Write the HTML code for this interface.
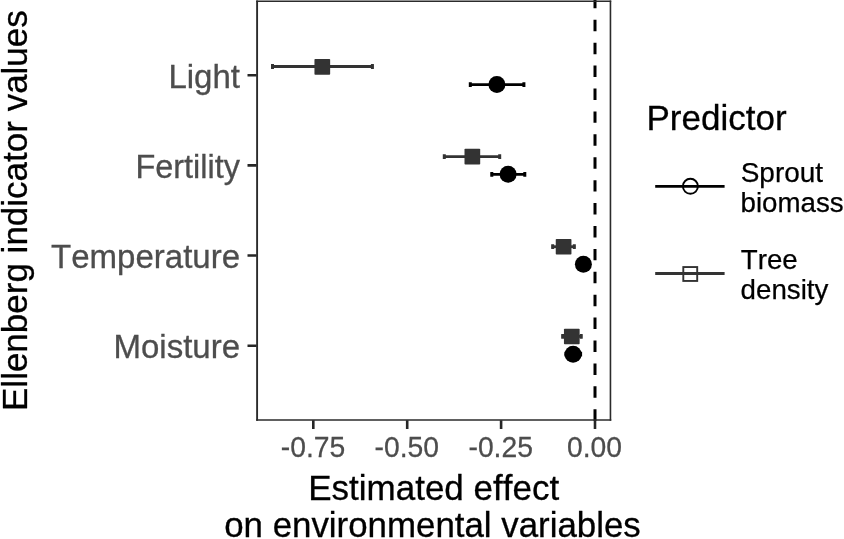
<!DOCTYPE html>
<html>
<head>
<meta charset="utf-8">
<title>Ellenberg indicator values</title>
<style>
html,body{margin:0;padding:0;background:#fff;}
body{width:844px;height:539px;overflow:hidden;}
svg{display:block;will-change:transform;}
text{font-family:"Liberation Sans",sans-serif;font-kerning:none;font-variant-ligatures:none;font-feature-settings:"kern" 0,"liga" 0;}
.ylab{font-size:33px;fill:#4d4d4d;text-anchor:end;stroke:#4d4d4d;stroke-width:0.3px;}
.xlab{font-size:28.3px;fill:#4d4d4d;text-anchor:middle;stroke:#4d4d4d;stroke-width:0.25px;}
.ttl{font-size:35px;fill:#000;text-anchor:middle;stroke:#000;stroke-width:0.3px;}
.lt{font-size:35px;fill:#000;stroke:#000;stroke-width:0.3px;}
.ll{font-size:27.7px;fill:#000;stroke:#000;stroke-width:0.25px;}
</style>
</head>
<body>
<svg width="844" height="539" viewBox="0 0 844 539">
<rect x="0" y="0" width="844" height="539" fill="#ffffff"/>

<!-- dashed zero line -->
<line x1="595" y1="420.7" x2="595" y2="0" stroke="#000" stroke-width="3" stroke-dasharray="11.45 11.46"/>

<!-- error bars : tree density (grey20) -->
<g stroke="#333333" fill="none">
  <path stroke-width="2.8" d="M271.50 66.50H373.40"/>
  <path stroke-width="3.0" d="M272.50 64.10V68.90M372.40 64.10V68.90"/>
  <path stroke-width="2.8" d="M443.30 156.60H500.70"/>
  <path stroke-width="3.0" d="M444.30 154.20V159.00M499.70 154.20V159.00"/>
  <path stroke-width="2.8" d="M551.70 246.70H575.30"/>
  <path stroke-width="3.0" d="M552.70 244.30V249.10M574.30 244.30V249.10"/>
  <path stroke-width="2.8" d="M561.70 336.40H582.20"/>
  <path stroke-width="3.0" d="M562.70 334.00V338.80M581.20 334.00V338.80"/>
</g>
<!-- error bars : sprout biomass (black) -->
<g stroke="#000000" fill="none">
  <path stroke-width="2.8" d="M469.30 84.60H524.90"/>
  <path stroke-width="3.0" d="M470.30 82.20V87.00M523.90 82.20V87.00"/>
  <path stroke-width="2.8" d="M490.80 174.30H525.80"/>
  <path stroke-width="3.0" d="M491.80 171.90V176.70M524.80 171.90V176.70"/>
</g>
<!-- points -->
<g fill="#333333">
  <rect x="314.45" y="59.05" width="15.7" height="15.7" rx="0.8"/>
  <rect x="464.50" y="148.75" width="15.7" height="15.7" rx="0.8"/>
  <rect x="555.75" y="238.90" width="15.7" height="15.7" rx="0.8"/>
  <rect x="563.95" y="328.65" width="15.7" height="15.7" rx="0.8"/>
</g>
<g stroke="#000000" fill="none">
  <path stroke-width="2.8" d="M566 354.1H581.6"/>
  <path stroke-width="3" d="M580.6 351.7V356.5M565.9 351.7V356.5"/>
</g>
<g fill="#000000">
  <circle cx="496.90" cy="84.45" r="8.5"/>
  <circle cx="508.10" cy="174.35" r="8.5"/>
  <circle cx="583.40" cy="264.25" r="8.5"/>
  <circle cx="573.10" cy="354.30" r="8.5"/>
</g>

<!-- panel border -->
<g stroke="#2b2b2b" fill="none">
  <path stroke-width="1.9" d="M257.1 0.4V420.8"/>
  <path stroke-width="1.6" d="M610.45 0.4V420.8"/>
  <path stroke-width="1.5" d="M256.2 1.25H611.2"/>
  <path stroke-width="1.7" d="M256.2 420H611.25"/>
</g>

<!-- ticks -->
<g stroke="#262626" stroke-width="2.6">
  <path d="M247.5 75.2H256.6M247.5 165.4H256.6M247.5 255.5H256.6M247.5 345.7H256.6"/>
  <path d="M313.3 420.3V428.9M407.2 420.3V428.9M501.1 420.3V428.9M595 420.3V428.9"/>
</g>

<!-- y axis labels -->
<text class="ylab" x="240" y="88.3">Light</text>
<text class="ylab" x="240" y="178.3" textLength="104.6" lengthAdjust="spacingAndGlyphs">Fertility</text>
<text class="ylab" x="240" y="268.1">Temperature</text>
<text class="ylab" x="240" y="358.1">Moisture</text>

<!-- x axis labels -->
<text class="xlab" transform="translate(313 457.2) scale(1 1.05)">-0.75</text>
<text class="xlab" transform="translate(406.8 457.2) scale(1 1.05)">-0.50</text>
<text class="xlab" transform="translate(500.7 457.2) scale(1 1.05)">-0.25</text>
<text class="xlab" transform="translate(594.5 457.2) scale(1 1.05)">0.00</text>

<!-- axis titles -->
<text class="ttl" x="433.7" y="500.4">Estimated effect</text>
<text class="ttl" x="432.5" y="537" textLength="416.6" lengthAdjust="spacingAndGlyphs">on environmental variables</text>
<text class="ttl" transform="translate(26.7 210.6) rotate(-90)">Ellenberg indicator values</text>

<!-- legend -->
<text class="lt" x="646.5" y="129.5">Predictor</text>
<g stroke="#000" fill="none">
  <line x1="655.2" y1="186.45" x2="724.6" y2="186.45" stroke-width="2.8"/>
  <circle cx="690.4" cy="186.3" r="7.5" stroke-width="1.9"/>
</g>
<g stroke="#333" fill="none">
  <line x1="655.2" y1="273.5" x2="724.6" y2="273.5" stroke-width="2.8"/>
  <rect x="683.3" y="267.05" width="13.9" height="13.9" stroke-width="1.9"/>
</g>
<text class="ll" x="740.7" y="182" textLength="82.4" lengthAdjust="spacingAndGlyphs">Sprout</text>
<text class="ll" x="740.5" y="212.4">biomass</text>
<text class="ll" x="740.8" y="268.9">Tree</text>
<text class="ll" x="740.6" y="299.3">density</text>
</svg>
</body>
</html>
